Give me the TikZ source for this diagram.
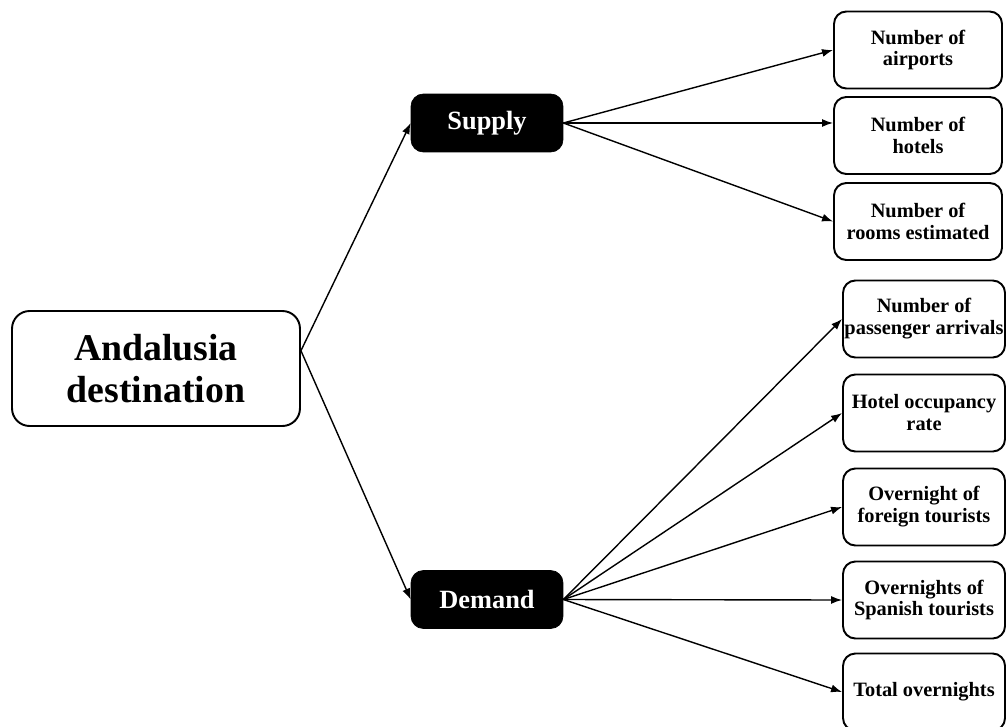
\documentclass[tikz,border=0pt]{standalone}
\usepackage{fontspec}
\setmainfont{Liberation Serif}
\usepackage{tikz}
\usetikzlibrary{positioning,calc,arrows.meta}

\begin{document}
\begin{tikzpicture}[x=0.02cm,y=-0.02cm,
    rootbox/.style={draw,line width=1.1pt,rounded corners=10pt,fill=white,
      minimum width=5.76cm,minimum height=2.3cm,align=center,
      font=\fontsize{21.5}{24}\selectfont\bfseries},
    midbox/.style={draw,fill=black,text=white,rounded corners=7pt,
      minimum width=3.04cm,minimum height=1.16cm,
      font=\fontsize{15}{18}\selectfont\bfseries},
    leafbox/.style={draw,line width=1.1pt,rounded corners=7pt,
      minimum height=1.54cm,inner xsep=0pt,align=center,
      font=\fontsize{11.6}{12.5}\selectfont\bfseries},
    arr/.style={-{Latex[length=2.2mm,width=1.6mm]},line width=0.8pt}]
  \useasboundingbox (0,0) rectangle (1006,726);

  \node[rootbox] (root) at (156,368.5) {Andalusia\\destination};
  \node[midbox] (supply) at (487,123) {Supply};
  \node[midbox] (demand) at (487,599.5) {Demand};

  % supply side
  \node[leafbox,minimum width=3.36cm] (airports) at (918,50) {Number of\\airports};
  \node[leafbox,minimum width=3.36cm] (hotels) at (918,135.5) {Number of\\hotels};
  \node[leafbox,minimum width=3.36cm] (rooms) at (918,221.5) {Number of\\rooms estimated};

  % demand side
  \node[leafbox,minimum width=3.24cm] (arrivals) at (924,319) {Number of\\passenger arrivals};
  \node[leafbox,minimum width=3.24cm] (occupancy) at (924,413) {Hotel occupancy\\rate};
  \node[leafbox,minimum width=3.24cm] (foreign) at (924,507) {Overnight of\\foreign tourists};
  \node[leafbox,minimum width=3.24cm] (spanish) at (924,600) {Overnights of\\Spanish tourists};
  \node[leafbox,minimum width=3.24cm] (total) at (924,692) {Total overnights};

  \draw[arr] (root.7) -- (supply.west);
  \draw[arr] (root.7) -- (demand.west);

  \draw[arr] (supply.east) -- (airports.west);
  \draw[arr] (supply.east) -- (hotels.west |- supply.east);
  \draw[arr] (supply.east) -- (rooms.west);

  \draw[arr] (demand.east) -- (arrivals.west);
  \draw[arr] (demand.east) -- (occupancy.west);
  \draw[arr] (demand.east) -- (foreign.west);
  \draw[arr] (demand.east) -- (spanish.west);
  \draw[arr] (demand.east) -- (total.west);
\end{tikzpicture}
\end{document}
